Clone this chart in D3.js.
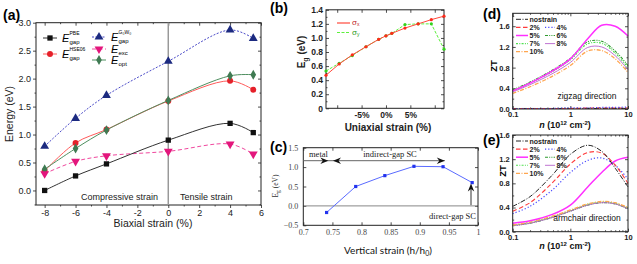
<!DOCTYPE html>
<html lang="en">
<head>
<meta charset="UTF-8">
<title>Strain tuning of gap and ZT</title>
<script src="https://cdnjs.cloudflare.com/ajax/libs/d3/7.9.0/d3.min.js"></script>
<style>
  body { margin: 0; background: #fff; }
  svg { display: block; font-family: "Liberation Sans", Arial, sans-serif; }
  .serif { font-family: "Liberation Serif", "Times New Roman", serif; }
</style>
</head>
<body>
<div id="chart"></div>
<script>
// (a) biaxial strain, energies in eV
const biaxStrain = [-8, -6, -4, 0, 4, 5.5];
const gapPBE = [0.0, 0.26, 0.475, 0.90, 1.20, 1.035];
const gapHSE = [0.35, 0.85, 1.09, 1.60, 1.96, 1.80];
const gapGW = [0.79, 1.29, 1.70, 2.31, 2.87, 2.72];
const eExc = [0.30, 0.52, 0.62, 0.70, 0.83, 0.65];
const eOpt = [0.38, 0.75, 1.08, 1.61, 2.05, 2.07];

// (b) uniaxial strain (%), Eg (eV)
const uniStrain = [-12.3, -9.6, -6.9, -4.1, -1.5, 0, 1.2, 3.9, 6.6, 9.3, 11.9];
const egSigX = [0.47, 0.63, 0.76, 0.875, 0.98, 1.03, 1.065, 1.14, 1.20, 1.26, 1.31];
const egSigY = [0.53, 0.64, 0.75, 0.875, 0.98, 1.03, 1.065, 1.19, 1.20, 1.20, 0.84];

// (c) vertical strain h/h0, Eg (eV)
const hRatio = [0.74, 0.79, 0.84, 0.89, 0.94, 0.99];
const egVert = [-0.17, 0.50, 0.78, 1.02, 1.01, 0.60];

// (d),(e) carrier density n (1e12 cm^-2) and ZT
const nDens = [0.1, 0.2, 0.5, 1, 2, 3.5, 6, 10];
const strainKeys = ["nostrain", "2%", "4%", "5%", "6%", "7%", "8%", "10%"];
const ztZigzag = [
  [0.01, 0.01, 0.01, 0.01, 0.01, 0.01, 0.01, 0.01],
  [0.01, 0.01, 0.01, 0.01, 0.02, 0.02, 0.02, 0.02],
  [0.01, 0.01, 0.01, 0.02, 0.02, 0.03, 0.03, 0.04],
  [0.35, 0.50, 0.74, 0.97, 1.36, 1.62, 1.60, 1.41],
  [0.37, 0.52, 0.76, 0.98, 1.30, 1.31, 1.12, 0.84],
  [0.35, 0.50, 0.73, 0.95, 1.26, 1.27, 1.08, 0.80],
  [0.33, 0.47, 0.69, 0.90, 1.19, 1.20, 1.03, 0.76],
  [0.30, 0.43, 0.64, 0.84, 1.12, 1.13, 0.97, 0.71]
];
const ztArmchair = [
  [0.42, 0.58, 0.95, 1.28, 1.43, 1.33, 1.05, 0.74],
  [0.34, 0.48, 0.82, 1.12, 1.31, 1.30, 1.10, 0.80],
  [0.30, 0.42, 0.70, 0.98, 1.18, 1.22, 1.10, 0.87],
  [0.14, 0.18, 0.29, 0.44, 0.74, 0.98, 1.17, 1.23],
  [0.10, 0.14, 0.24, 0.34, 0.44, 0.48, 0.46, 0.38],
  [0.11, 0.15, 0.25, 0.35, 0.45, 0.49, 0.47, 0.39],
  [0.10, 0.14, 0.24, 0.34, 0.44, 0.48, 0.46, 0.38],
  [0.11, 0.16, 0.26, 0.36, 0.46, 0.50, 0.48, 0.40]
];

const svg = d3.select("#chart").append("svg")
  .attr("width", 637).attr("height", 264);
svg.append("rect").attr("width", 637).attr("height", 264).attr("fill", "#fff");

const smooth = d3.curveCatmullRom.alpha(0.5);

// generic axis: negative size = ticks pointing into the plot
function axis(g, fn, scale, at, ticks, size, fmt, o = {}) {
  const a = fn(scale).tickValues(ticks).tickSize(size).tickPadding(o.pad ?? 2)
    .tickFormat(fmt || (() => ""));
  const s = g.append("g").attr("transform", at).call(a);
  s.select(".domain").remove();
  s.selectAll("line").attr("stroke", "#222").attr("stroke-width", 0.8);
  s.selectAll("text").attr("fill", "#222")
    .style("font-size", (o.fs || 8) + "px")
    .style("font-weight", o.fw || "normal")
    .style("font-family", o.ff || null);
  return s;
}

function frame(g, x, y) {
  g.append("rect")
    .attr("x", x.range()[0]).attr("y", y.range()[1])
    .attr("width", x.range()[1] - x.range()[0])
    .attr("height", y.range()[0] - y.range()[1])
    .attr("fill", "none").attr("stroke", "#222").attr("stroke-width", 1);
}

function panelLabel(t, x, y) {
  svg.append("text").attr("x", x).attr("y", y)
    .style("font-size", "14px").style("font-weight", "bold").text(t);
}

// ---------- (a) ----------
const gA = svg.append("g");
const xA = d3.scaleLinear().domain([-8.56, 6]).range([36, 261]);
const yA = d3.scaleLinear().domain([-0.26, 3.0]).range([205, 22.7]);
const xMajA = [-8, -6, -4, -2, 0, 2, 4, 6];
const xMinA = [-7, -5, -3, -1, 1, 3, 5];
const yMajA = d3.range(0, 3.01, 0.5);
const yMinA = [-0.25, 0.25, 0.75, 1.25, 1.75, 2.25, 2.75];

axis(gA, d3.axisBottom, xA, "translate(0,205)", xMajA, 3, d => String(d), { fs: 9, pad: 2 });
axis(gA, d3.axisBottom, xA, "translate(0,205)", xMinA, 1.5);
axis(gA, d3.axisTop, xA, "translate(0,22.7)", xMajA, -3);
axis(gA, d3.axisTop, xA, "translate(0,22.7)", xMinA, -1.5);
axis(gA, d3.axisLeft, yA, "translate(36,0)", yMajA, 3, d3.format(".1f"), { fs: 9, pad: 2 });
axis(gA, d3.axisLeft, yA, "translate(36,0)", yMinA, 1.5);
axis(gA, d3.axisRight, yA, "translate(261,0)", yMajA, -3);
axis(gA, d3.axisRight, yA, "translate(261,0)", yMinA, -1.5);
frame(gA, xA, yA);

gA.append("line").attr("x1", xA(0)).attr("x2", xA(0))
  .attr("y1", yA.range()[1]).attr("y2", yA.range()[0])
  .attr("stroke", "#999").attr("stroke-width", 1.5);

const seriesA = [
  { v: gapGW, color: "#4b4bc8", mk: "#1c2a80", sym: d3.symbolTriangle, rot: 0, dash: "2,1.5", name: "G₀W₀", sub: "gap" },
  { v: gapHSE, color: "#ff5a5a", mk: "#e5202a", sym: d3.symbolCircle, rot: 0, dash: null, name: "HSE06", sub: "gap" },
  { v: eOpt, color: "#4f8f60", mk: "#3f7a52", sym: d3.symbolDiamond, rot: 0, dash: null, name: "", sub: "opt" },
  { v: eExc, color: "#f0489e", mk: "#e3167c", sym: d3.symbolTriangle, rot: 180, dash: "4,2.5", name: "", sub: "exc" },
  { v: gapPBE, color: "#333", mk: "#111", sym: d3.symbolSquare, rot: 0, dash: null, name: "PBE", sub: "gap" }
];

seriesA.forEach(s => {
  const pts = d3.zip(biaxStrain, s.v);
  gA.append("path").datum(pts)
    .attr("d", d3.line().x(d => xA(d[0])).y(d => yA(d[1])).curve(smooth))
    .attr("fill", "none").attr("stroke", s.color).attr("stroke-width", 1)
    .attr("stroke-dasharray", s.dash);
  gA.selectAll(null).data(pts).enter().append("path")
    .attr("d", d3.symbol().type(s.sym).size(s.sym === d3.symbolTriangle ? 34 : 28))
    .attr("transform", d => `translate(${xA(d[0])},${yA(d[1])}) rotate(${s.rot})`)
    .attr("fill", s.mk);
});

// legend (a)
const legA = [
  { s: seriesA[4], x: 43, y: 38 },
  { s: seriesA[1], x: 43, y: 54 },
  { s: seriesA[0], x: 92, y: 37 },
  { s: seriesA[3], x: 92, y: 49 },
  { s: seriesA[2], x: 92, y: 60 }
];
legA.forEach(l => {
  gA.append("line").attr("x1", l.x).attr("x2", l.x + 14).attr("y1", l.y).attr("y2", l.y)
    .attr("stroke", l.s.color).attr("stroke-width", 1).attr("stroke-dasharray", l.s.dash);
  gA.append("path")
    .attr("d", d3.symbol().type(l.s.sym).size(l.s.sym === d3.symbolTriangle ? 34 : 28))
    .attr("transform", `translate(${l.x + 7},${l.y}) rotate(${l.s.rot})`)
    .attr("fill", l.s.mk);
  gA.append("text").attr("x", l.x + 19).attr("y", l.y + 4)
    .style("font-size", "11px").style("font-style", "italic").text("E");
  gA.append("text").attr("x", l.x + 26.5).attr("y", l.y - 3)
    .style("font-size", "5px").text(l.s.name);
  gA.append("text").attr("x", l.x + 26.5).attr("y", l.y + 6)
    .style("font-size", "6px").text(l.s.sub);
});

gA.append("text").attr("x", 119.5).attr("y", 200).attr("text-anchor", "middle")
  .style("font-size", "9px").attr("fill", "#222").text("Compressive strain");
gA.append("text").attr("x", 180).attr("y", 200)
  .style("font-size", "9px").attr("fill", "#222").text("Tensile strain");
gA.append("text").attr("x", 153).attr("y", 227).attr("text-anchor", "middle")
  .style("font-size", "10.5px").attr("fill", "#222").text("Biaxial strain (%)");
gA.append("text").attr("transform", `translate(13,114) rotate(-90)`).attr("text-anchor", "middle")
  .style("font-size", "10.5px").attr("fill", "#222").text("Energy (eV)");
panelLabel("(a)", 3, 20);

// ---------- (b) ----------
const gB = svg.append("g");
const xB = d3.scaleLinear().domain([-12.3, 11.9]).range([326, 444]);
const yB = d3.scaleLinear().domain([0, 1.4]).range([108.3, 9.8]);
const xMajB = [-10, -5, 0, 5, 10];
const yMajB = d3.range(0, 1.41, 0.2);
const yMinB = d3.range(0.1, 1.4, 0.2);
const fmtB = d => (Math.abs(d) === 10 ? "" : d + "%");
axis(gB, d3.axisBottom, xB, "translate(0,108.3)", xMajB, -3, fmtB, { fs: 8.5, fw: "bold", pad: 4 });
axis(gB, d3.axisTop, xB, "translate(0,9.8)", xMajB, -3);
axis(gB, d3.axisLeft, yB, "translate(326,0)", yMajB, -3, d => (d === 0 ? "0" : d3.format(".1f")(d)), { fs: 8.5, fw: "bold", pad: 3 });
axis(gB, d3.axisLeft, yB, "translate(326,0)", yMinB, -1.5);
axis(gB, d3.axisRight, yB, "translate(444,0)", yMajB, -3);
axis(gB, d3.axisRight, yB, "translate(444,0)", yMinB, -1.5);
frame(gB, xB, yB);

[{ v: egSigY, c: "#5cf03c", dash: "3,1.5", mk: "#33d11c" },
 { v: egSigX, c: "#ff4a3c", dash: null, mk: "#ff2a1a" }].forEach(s => {
  const pts = d3.zip(uniStrain, s.v);
  gB.append("path").datum(pts)
    .attr("d", d3.line().x(d => xB(d[0])).y(d => yB(d[1])))
    .attr("fill", "none").attr("stroke", s.c).attr("stroke-width", 1)
    .attr("stroke-dasharray", s.dash);
  gB.selectAll(null).data(pts).enter().append("circle")
    .attr("cx", d => xB(d[0])).attr("cy", d => yB(d[1])).attr("r", 1.6).attr("fill", s.mk);
});

gB.append("line").attr("x1", 337).attr("x2", 350).attr("y1", 23).attr("y2", 23)
  .attr("stroke", "#ff4a3c").attr("stroke-width", 1.2);
gB.append("line").attr("x1", 337).attr("x2", 350).attr("y1", 32.5).attr("y2", 32.5)
  .attr("stroke", "#5cf03c").attr("stroke-width", 1.2).attr("stroke-dasharray", "3,1.5");
[["x", 23, "#c0282a"], ["y", 32.5, "#2a9a1a"]].forEach(([k, y, c]) => {
  const t = gB.append("text").attr("x", 352).attr("y", y + 2).attr("fill", c).style("font-size", "8px");
  t.append("tspan").text("σ");
  t.append("tspan").attr("dy", 1).style("font-size", "5px").text(k);
});

const tB = gB.append("text").attr("transform", "translate(305,52) rotate(-90)").attr("text-anchor", "middle")
  .style("font-size", "10px").style("font-weight", "bold").attr("fill", "#222");
tB.append("tspan").text("E");
tB.append("tspan").attr("dy", 2.5).style("font-size", "7px").text("g");
tB.append("tspan").attr("dy", -2.5).text(" (eV)");
gB.append("text").attr("x", 388).attr("y", 131).attr("text-anchor", "middle")
  .style("font-size", "10px").style("font-weight", "bold").attr("fill", "#222").text("Uniaxial strain (%)");
panelLabel("(b)", 270, 13);

// ---------- (c) ----------
const gC = svg.append("g");
const xC = d3.scaleLinear().domain([0.7, 1.0]).range([303.3, 478]);
const yC = d3.scaleLinear().domain([-0.5, 1.5]).range([225.3, 147.7]);
const xMajC = [0.7, 0.75, 0.8, 0.85, 0.9, 0.95, 1.0];
const yMajC = [-0.5, 0, 0.5, 1.0, 1.5];
const serif = "Liberation Serif, Times New Roman, serif";
axis(gC, d3.axisBottom, xC, "translate(0,225.3)", xMajC, -3, d => String(d), { fs: 8, ff: serif, pad: 4 });
axis(gC, d3.axisTop, xC, "translate(0,147.7)", xMajC, -3);
axis(gC, d3.axisLeft, yC, "translate(303.3,0)", yMajC, -3, d3.format(".1f"), { fs: 8, ff: serif, pad: 5 });
axis(gC, d3.axisRight, yC, "translate(478,0)", yMajC, -3);
gC.selectAll("text").attr("fill", "#444");

gC.append("line").attr("x1", xC(0.7)).attr("x2", xC(1.0)).attr("y1", yC(0)).attr("y2", yC(0))
  .attr("stroke", "#888").attr("stroke-width", 1);
frame(gC, xC, yC);

const ptsC = d3.zip(hRatio, egVert);
gC.append("path").datum(ptsC)
  .attr("d", d3.line().x(d => xC(d[0])).y(d => yC(d[1])))
  .attr("fill", "none").attr("stroke", "#5a6bff").attr("stroke-width", 1);
gC.selectAll(null).data(ptsC).enter().append("rect")
  .attr("x", d => xC(d[0]) - 1.6).attr("y", d => yC(d[1]) - 1.6)
  .attr("width", 3.2).attr("height", 3.2).attr("fill", "#2233ee");

// annotations
const arrY = yC(1.165);
gC.append("line").attr("x1", xC(0.7)).attr("x2", xC(0.943)).attr("y1", arrY).attr("y2", arrY)
  .attr("stroke", "#666").attr("stroke-width", 1);
function head(x, y, dir) {
  const r = { right: 0, left: 180, up: -90 }[dir];
  gC.append("path").attr("d", "M0,0 L-8,-3.2 L-5.5,0 L-8,3.2 Z")
    .attr("transform", `translate(${x},${y}) rotate(${r})`).attr("fill", "#111");
}
head(xC(0.743), arrY, "right");
head(xC(0.751), arrY, "left");
head(xC(0.943), arrY, "right");
gC.append("line").attr("x1", xC(0.988)).attr("x2", xC(0.988)).attr("y1", yC(0.02)).attr("y2", yC(0.5))
  .attr("stroke", "#333").attr("stroke-width", 1);
head(xC(0.988), yC(0.58), "up");

gC.append("text").attr("class", "serif").attr("x", 309).attr("y", 157)
  .style("font-size", "8.5px").attr("fill", "#222").text("metal");
gC.append("text").attr("class", "serif").attr("x", 390).attr("y", 157).attr("text-anchor", "middle")
  .style("font-size", "8.5px").attr("fill", "#222").text("indirect-gap SC");
gC.append("text").attr("class", "serif").attr("x", 476).attr("y", 219).attr("text-anchor", "end")
  .style("font-size", "8.5px").attr("fill", "#222").text("direct-gap SC");

const tC = gC.append("text").attr("class", "serif").attr("transform", "translate(278,186) rotate(-90)")
  .attr("text-anchor", "middle").style("font-size", "7.5px").attr("fill", "#333");
tC.append("tspan").text("E");
tC.append("tspan").attr("dy", 2).style("font-size", "5.5px").text("g");
tC.append("tspan").attr("dy", -2).text(" (eV)");
const xtC = gC.append("text").attr("x", 388).attr("y", 254).attr("text-anchor", "middle")
  .style("font-size", "10px").style("font-family", "Lato, sans-serif").attr("fill", "#111");
xtC.append("tspan").text("Vertical strain (h/h");
xtC.append("tspan").attr("dy", 2).style("font-size", "7px").text("0");
xtC.append("tspan").attr("dy", -2).text(")");
panelLabel("(c)", 270, 152);

// ---------- (d) & (e) ----------
const styles = [
  { c: "#222", dash: "5,1.5,1,1.5", w: 1 },
  { c: "#ff3b3b", dash: "4.5,2.5", w: 1.1 },
  { c: "#4a4aff", dash: "1.2,2", w: 1.2 },
  { c: "#ff30ff", dash: null, w: 1.5 },
  { c: "#2f9a2f", dash: "3,1.2,1,1.2,1,1.2", w: 1.1 },
  { c: "#50e050", dash: "2,1.3,1,1.3", w: 1.1 },
  { c: "#b863cc", dash: null, w: 0.9 },
  { c: "#ffa650", dash: "4,1.5,1,1.5", w: 1.3 }
];
const legPos = [[0, 0], [0, 1], [1, 1], [0, 2], [1, 2], [0, 3], [1, 3], [0, 4]];

function ztPanel(data, top, bottom, yMax, dirText, label, drawOrder) {
  const g = svg.append("g");
  const x = d3.scaleLog().domain([0.1, 10]).range([512.7, 628]);
  const y = d3.scaleLinear().domain([0, yMax]).range([bottom, top]);
  const major = [0.1, 1, 10];
  const minor = [0.2, 0.3, 0.4, 0.5, 0.6, 0.7, 0.8, 0.9, 2, 3, 4, 5, 6, 7, 8, 9];
  const yMaj = [0, 0.4, 0.8, 1.2, 1.6];
  const yMin = [0.2, 0.6, 1.0, 1.4].concat(yMax > 1.75 ? [1.8] : []);
  axis(g, d3.axisBottom, x, `translate(0,${bottom})`, major, -3, d => String(d), { fs: 7.5, fw: "bold", pad: 3 });
  axis(g, d3.axisBottom, x, `translate(0,${bottom})`, minor, -1.5);
  axis(g, d3.axisTop, x, `translate(0,${top})`, major, -3);
  axis(g, d3.axisTop, x, `translate(0,${top})`, minor, -1.5);
  axis(g, d3.axisLeft, y, "translate(512.7,0)", yMaj, -3, d3.format(".1f"), { fs: 7.5, fw: "bold", pad: 3 });
  axis(g, d3.axisLeft, y, "translate(512.7,0)", yMin, -1.5);
  axis(g, d3.axisRight, y, "translate(628,0)", yMaj, -3);
  axis(g, d3.axisRight, y, "translate(628,0)", yMin, -1.5);

  const line = d3.line().x(d => x(d[0])).y(d => y(d[1])).curve(smooth);
  drawOrder.forEach(i => {
    g.append("path").datum(d3.zip(nDens, data[i])).attr("d", line)
      .attr("fill", "none").attr("stroke", styles[i].c).attr("stroke-width", styles[i].w)
      .attr("stroke-dasharray", styles[i].dash);
  });
  frame(g, x, y);

  strainKeys.forEach((k, i) => {
    const [col, row] = legPos[i];
    const lx = col ? 545 : 516;
    const ly = top + 6 + row * 8.1;
    g.append("line").attr("x1", lx).attr("x2", lx + (col ? 10 : 12)).attr("y1", ly).attr("y2", ly)
      .attr("stroke", styles[i].c).attr("stroke-width", styles[i].w).attr("stroke-dasharray", styles[i].dash);
    g.append("text").attr("x", lx + (col ? 11.5 : 13.5)).attr("y", ly + 2.5)
      .style("font-size", "7px").style("font-weight", "bold").attr("fill", "#222").text(k);
  });

  g.append("text").attr("x", 587).attr("y", bottom - 10.5).attr("text-anchor", "middle")
    .style("font-size", "8.5px").attr("fill", "#111").text(dirText);
  g.append("text").attr("transform", `translate(${label.zx},${label.zy}) rotate(-90)`)
    .attr("text-anchor", "middle").style("font-size", "9.5px").style("font-weight", "bold").text("ZT");
  const t = g.append("text").attr("x", 565).attr("y", label.ny).attr("text-anchor", "middle")
    .style("font-size", "9px").style("font-weight", "bold").attr("fill", "#111");
  t.append("tspan").style("font-style", "italic").text("n");
  t.append("tspan").text(" (10");
  t.append("tspan").attr("dy", -3.5).style("font-size", "6px").text("12");
  t.append("tspan").attr("dy", 3.5).text(" cm");
  t.append("tspan").attr("dy", -3.5).style("font-size", "6px").text("-2");
  t.append("tspan").attr("dy", 3.5).text(")");
  panelLabel(label.text, 483, label.py);
}

ztPanel(ztZigzag, 13.3, 109, 1.85, "zigzag direction",
  { zx: 497, zy: 66, ny: 128, text: "(d)", py: 19 }, [0, 1, 2, 7, 6, 5, 4, 3]);
ztPanel(ztArmchair, 135, 231.7, 1.6, "armchair direction",
  { zx: 506, zy: 171, ny: 249, text: "(e)", py: 145 }, [4, 5, 6, 7, 3, 2, 1, 0]);
</script>
</body>
</html>
